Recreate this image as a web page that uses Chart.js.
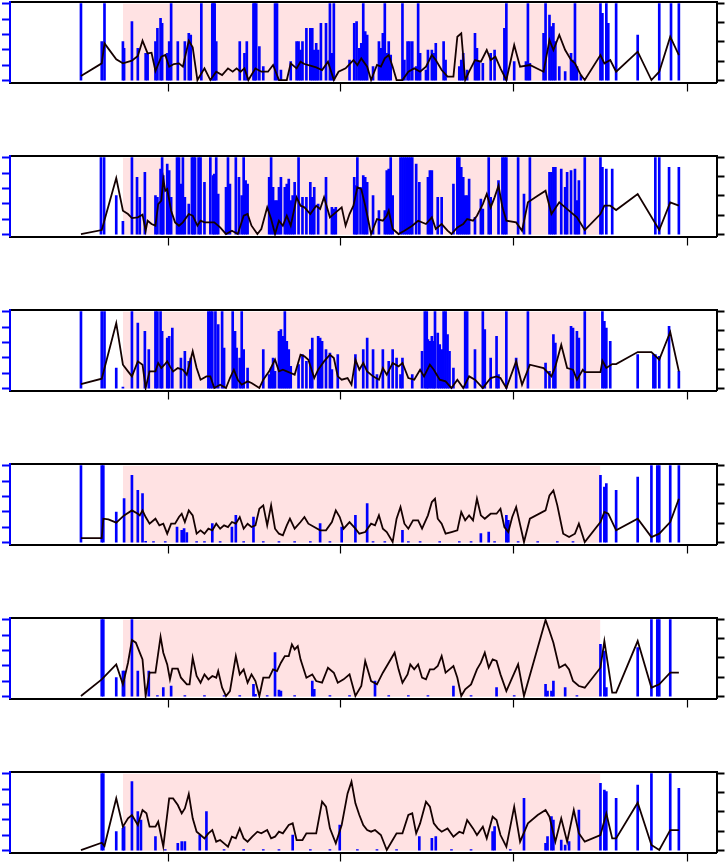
<!DOCTYPE html>
<html>
<head>
<meta charset="utf-8">
<script src="https://cdn.jsdelivr.net/npm/chart.js@4.4.1/dist/chart.umd.min.js"></script>
<style>
html, body { margin: 0; padding: 0; background: #fff; }
#wrap { position: relative; width: 725px; height: 863px; overflow: hidden; }
canvas { position: absolute; left: 0; }
</style>
</head>
<body>
<div id="wrap"></div>
<script>
// axis ticks (labels are outside the picture, only the marks show)
const xTicks = [237, 678, 1119, 1561];
const leftTicks = [0, 46.2, 92.4, 138.6, 184.8, 231];
const rightTicks = [0, 58.2, 116.4, 174.6, 232.8];

// shaded period
const shadeStart = 122;
const shadeEnd = 1340;
const shadeTop = 231;

// panel 1
const p1Line = [[15,14],[68,52],[75,112],[105,64],[122,52],[145,60],[160,74],[172,120],[185,82],[195,84],[205,29],[220,72],[230,77],[240,42],[252,50],[265,52],[275,42],[290,120],[300,100],[312,2],[330,37],[345,2],[360,27],[375,17],[390,37],[402,27],[412,37],[422,27],[432,37],[442,2],[460,37],[475,27],[492,27],[505,47],[520,2],[540,2],[550,52],[565,37],[575,57],[585,50],[600,45],[615,40],[630,32],[645,57],[660,2],[672,27],[690,37],[710,62],[720,47],[730,67],[745,42],[755,2],[770,47],[780,42],[790,67],[800,77],[810,42],[820,2],[835,2],[850,27],[865,37],[880,27],[895,42],[910,77],[920,62],[935,32],[950,12],[965,12],[975,132],[985,142],[995,2],[1005,27],[1020,62],[1035,57],[1050,92],[1060,62],[1072,72],[1085,37],[1100,2],[1120,107],[1135,42],[1160,47],[1195,27],[1210,122],[1220,92],[1235,137],[1250,92],[1265,62],[1275,52],[1290,17],[1300,2],[1340,77],[1350,52],[1365,62],[1380,27],[1435,87],[1470,2],[1490,27],[1518,132],[1540,77]];
const p1Bars = [[15,231],[68,117],[75,231],[122,117],[125,97],[145,177],[160,97],[180,82],[185,82],[205,117],[210,157],[218,187],[222,172],[235,82],[240,117],[245,231],[262,117],[280,117],[290,142],[295,137],[322,231],[350,231],[353,231],[356,231],[360,117],[420,117],[432,82],[438,117],[455,231],[458,231],[462,231],[470,102],[480,42],[510,231],[515,231],[525,32],[550,57],[565,117],[570,117],[575,92],[580,117],[590,157],[600,157],[605,157],[610,92],[615,112],[620,92],[627,172],[640,172],[650,231],[655,82],[660,231],[700,62],[712,172],[718,177],[725,97],[730,112],[735,231],[740,147],[745,137],[760,42],[775,117],[780,97],[785,142],[790,231],[795,82],[800,117],[805,77],[835,231],[840,62],[848,117],[853,117],[860,117],[870,42],[875,231],[880,82],[895,32],[900,92],[910,92],[915,82],[920,112],[940,117],[945,62],[980,42],[985,62],[990,82],[1000,32],[1020,142],[1025,97],[1030,57],[1040,52],[1060,82],[1070,92],[1095,157],[1100,231],[1120,57],[1150,57],[1155,231],[1160,52],[1195,142],[1200,231],[1210,197],[1215,162],[1220,172],[1225,117],[1235,42],[1250,27],[1265,82],[1270,62],[1275,231],[1280,42],[1290,17],[1340,231],[1345,202],[1355,231],[1360,172],[1380,231],[1435,137],[1490,231],[1520,231],[1540,231]];

// panel 2
const p2Line = [[15,2],[68,14],[105,170],[122,72],[135,62],[145,50],[160,52],[172,60],[180,12],[185,42],[195,32],[205,27],[212,92],[220,102],[225,167],[230,132],[235,137],[245,72],[255,37],[265,27],[275,37],[290,62],[300,57],[312,27],[320,42],[330,37],[345,37],[355,37],[370,22],[385,2],[400,12],[415,2],[430,57],[440,62],[450,27],[465,2],[475,17],[490,82],[500,47],[510,2],[520,42],[530,27],[540,57],[550,27],[560,82],[565,112],[575,87],[585,82],[600,62],[615,87],[625,77],[635,112],[650,52],[665,67],[680,82],[690,27],[700,62],[710,87],[720,142],[730,137],[740,87],[755,2],[770,47],[785,42],[795,57],[800,72],[810,17],[825,2],[840,12],[860,27],[875,42],[895,32],[910,52],[920,17],[935,32],[950,12],[960,2],[975,22],[990,32],[1000,47],[1015,42],[1025,57],[1040,92],[1050,122],[1060,82],[1070,112],[1080,147],[1090,82],[1100,42],[1125,37],[1140,12],[1155,97],[1180,117],[1200,132],[1215,62],[1235,97],[1250,82],[1265,67],[1280,52],[1300,14],[1340,62],[1350,87],[1365,87],[1380,74],[1435,122],[1490,14],[1518,97],[1540,87]];
const p2Bars = [[66,231],[74,231],[105,117],[122,40],[145,231],[158,172],[165,112],[178,187],[205,117],[210,112],[218,197],[222,231],[225,177],[235,212],[240,192],[245,112],[260,231],[265,231],[270,152],[275,231],[280,112],[290,92],[298,231],[302,231],[306,231],[315,231],[320,231],[330,157],[345,231],[352,177],[355,182],[360,231],[365,122],[385,142],[390,231],[395,152],[410,231],[418,172],[425,117],[430,231],[435,162],[440,152],[495,172],[500,231],[505,142],[510,102],[515,102],[520,142],[525,172],[535,142],[540,152],[545,167],[550,102],[555,117],[560,157],[570,231],[580,112],[590,112],[600,157],[605,112],[610,142],[620,92],[640,172],[655,82],[660,77],[665,82],[712,172],[716,147],[720,231],[728,142],[735,177],[740,172],[745,157],[760,117],[775,72],[790,72],[795,192],[800,197],[805,231],[810,117],[830,231],[835,231],[840,231],[845,231],[850,231],[855,231],[860,231],[870,212],[878,157],[900,172],[905,192],[910,192],[925,112],[935,112],[965,152],[975,231],[980,231],[985,202],[990,172],[995,117],[1000,117],[1005,167],[1020,52],[1035,107],[1040,77],[1055,231],[1060,112],[1080,162],[1090,231],[1095,231],[1100,231],[1130,231],[1145,122],[1160,231],[1210,187],[1215,187],[1220,202],[1225,202],[1240,197],[1250,142],[1255,187],[1265,192],[1275,197],[1280,102],[1285,162],[1300,231],[1340,231],[1345,202],[1355,197],[1370,197],[1480,231],[1490,231],[1515,202],[1540,202]];

// panel 3
const p3Line = [[15,14],[68,30],[105,197],[122,72],[135,52],[145,37],[160,82],[172,72],[180,2],[190,52],[205,52],[212,77],[220,62],[228,72],[235,82],[242,67],[250,52],[262,62],[275,57],[285,42],[300,112],[310,62],[320,27],[335,37],[345,37],[355,2],[370,12],[385,2],[395,32],[405,57],[415,27],[425,12],[440,22],[450,17],[470,2],[480,27],[495,52],[510,87],[520,52],[530,57],[540,52],[550,47],[560,42],[575,102],[585,97],[595,87],[610,32],[620,57],[635,82],[650,102],[660,92],[670,37],[680,27],[695,32],[705,12],[715,87],[725,57],[735,77],[745,52],[760,37],[775,27],[785,62],[795,42],[810,77],[825,67],[835,77],[850,32],[865,27],[880,57],[890,37],[905,72],[915,57],[930,27],[945,22],[960,2],[975,27],[990,2],[1005,37],[1020,27],[1040,2],[1060,32],[1075,37],[1085,32],[1100,2],[1125,82],[1140,12],[1160,72],[1195,62],[1215,37],[1225,67],[1240,132],[1255,62],[1270,57],[1280,27],[1295,57],[1300,50],[1340,50],[1345,84],[1355,62],[1370,74],[1380,74],[1435,110],[1470,110],[1490,87],[1518,170],[1540,52]];
const p3Bars = [[15,231],[68,231],[75,231],[105,62],[122,5],[145,231],[160,197],[178,172],[188,117],[205,231],[210,231],[218,231],[222,172],[235,152],[240,157],[248,182],[270,92],[280,112],[290,82],[295,92],[340,231],[345,231],[350,231],[358,231],[365,192],[375,231],[380,122],[402,231],[408,172],[412,122],[420,92],[425,231],[430,117],[440,62],[480,117],[495,42],[500,62],[505,92],[510,52],[520,172],[525,177],[530,157],[535,231],[540,142],[545,117],[550,67],[570,72],[580,102],[590,82],[600,117],[605,152],[620,157],[625,152],[630,142],[640,117],[650,107],[655,57],[670,102],[715,102],[735,117],[745,152],[760,117],[770,42],[785,117],[800,82],[810,117],[820,92],[830,42],[835,92],[860,42],[885,112],[892,231],[897,231],[900,147],[905,142],[910,157],[915,142],[918,231],[925,167],[930,132],[935,117],[940,231],[945,231],[950,162],[955,112],[965,62],[995,231],[1000,231],[1020,117],[1040,231],[1045,177],[1060,92],[1075,157],[1080,42],[1100,231],[1125,92],[1155,231],[1200,77],[1210,52],[1220,162],[1225,137],[1265,187],[1270,182],[1280,172],[1285,152],[1300,231],[1345,231],[1350,202],[1355,182],[1365,142],[1435,102],[1475,102],[1480,102],[1490,97],[1515,187],[1540,52]];

// panel 4
const p4Line = [[15,14],[68,14],[72,72],[85,70],[105,60],[125,82],[145,97],[160,87],[165,82],[172,97],[180,77],[190,57],[205,72],[215,52],[225,57],[235,27],[245,57],[255,57],[265,77],[272,87],[280,62],[290,97],[300,82],[310,27],[320,37],[330,27],[340,42],[350,37],[360,57],[370,42],[380,52],[390,47],[400,62],[410,57],[420,77],[430,42],[440,57],[450,47],[460,52],[470,102],[480,112],[490,52],[500,112],[510,42],[520,27],[530,22],[540,52],[548,72],[560,42],[575,62],[585,77],[595,57],[610,47],[625,37],[640,37],[655,62],[665,97],[675,77],[685,42],[700,62],[715,42],[725,27],[740,32],[755,57],[765,52],[775,82],[785,42],[795,32],[810,2],[820,72],[830,107],[840,57],[850,42],[862,67],[875,67],[885,42],[900,82],[910,122],[918,132],[925,72],[935,57],[945,27],[960,32],[975,37],[985,92],[995,67],[1005,82],[1015,67],[1025,132],[1035,82],[1045,72],[1060,87],[1075,87],[1085,102],[1095,47],[1105,32],[1115,77],[1125,107],[1145,2],[1160,72],[1200,97],[1210,142],[1220,157],[1230,112],[1245,27],[1260,17],[1275,27],[1285,57],[1300,2],[1340,62],[1350,92],[1360,87],[1380,37],[1435,72],[1470,17],[1490,27],[1518,62],[1540,132]];
const p4Bars = [[15,231],[68,231],[72,231],[105,92],[125,132],[145,202],[160,157],[172,147],[180,4],[200,3],[230,3],[260,47],[272,37],[278,42],[285,30],[310,3],[330,3],[350,57],[370,3],[400,47],[410,82],[430,3],[455,77],[480,3],[520,3],[560,3],[600,3],[625,57],[650,3],[680,47],[715,82],[745,117],[760,3],[790,3],[835,37],[850,3],[880,3],[930,3],[980,3],[1010,3],[1035,27],[1055,32],[1070,3],[1100,82],[1105,67],[1130,3],[1180,3],[1230,3],[1270,3],[1340,202],[1350,167],[1355,177],[1380,157],[1435,197],[1470,231],[1485,231],[1490,231],[1518,231],[1540,231]];

// panel 5
const p5Line = [[15,2],[68,52],[105,97],[122,37],[135,102],[145,170],[155,162],[165,132],[172,112],[180,2],[190,72],[205,72],[218,180],[225,132],[235,97],[242,52],[248,84],[262,84],[270,57],[285,37],[292,37],[300,117],[310,62],[320,42],[330,67],[340,52],[350,62],[360,57],[365,77],[375,27],[385,2],[395,17],[410,122],[420,67],[430,82],[440,42],[450,67],[460,47],[470,2],[480,57],[495,57],[505,82],[515,77],[525,102],[535,122],[545,122],[553,157],[560,142],[568,152],[575,112],[590,57],[605,67],[615,47],[630,42],[645,87],[660,72],[670,42],[685,52],[700,67],[715,2],[730,32],[740,107],[755,47],[770,37],[785,72],[800,102],[815,132],[825,82],[835,42],[848,67],[855,97],[865,82],[875,97],[885,57],[895,52],[905,82],[915,82],[925,92],[935,122],[945,72],[955,82],[965,92],[975,57],[985,2],[995,22],[1010,37],[1025,82],[1035,102],[1045,132],[1055,87],[1065,112],[1075,107],[1085,67],[1100,17],[1115,57],[1130,97],[1145,2],[1200,230],[1210,197],[1220,162],[1235,87],[1250,97],[1260,82],[1270,47],[1285,32],[1300,27],[1340,87],[1350,167],[1370,12],[1380,12],[1435,167],[1470,27],[1490,37],[1518,72],[1540,72]];
const p5Bars = [[68,231],[72,231],[105,57],[122,77],[125,77],[145,231],[160,77],[188,77],[210,3],[225,27],[245,32],[280,3],[330,3],[380,3],[420,3],[455,37],[460,7],[490,3],[510,132],[520,20],[525,17],[560,3],[605,47],[610,22],[650,3],[700,3],[765,47],[800,3],[850,3],[900,3],[965,32],[1010,3],[1075,27],[1120,3],[1200,37],[1205,17],[1215,17],[1220,47],[1250,27],[1280,3],[1340,157],[1350,137],[1355,27],[1435,147],[1470,231],[1485,231],[1490,231],[1518,231]];

// panel 6
const p6Line = [[15,2],[68,24],[75,14],[105,157],[122,72],[135,97],[145,107],[160,77],[172,122],[182,112],[190,72],[205,72],[212,87],[225,12],[240,157],[250,157],[262,137],[272,112],[280,127],[290,170],[300,97],[310,57],[320,47],[330,37],[340,52],[350,62],[360,27],[370,32],[380,22],[390,12],[400,42],[410,37],[420,67],[430,37],[440,27],[452,42],[465,57],[475,52],[490,62],[500,37],[510,42],[520,57],[530,52],[545,77],[555,82],[565,32],[580,32],[590,52],[605,52],[615,52],[630,147],[640,132],[650,67],[665,22],[680,77],[695,172],[705,207],[715,142],[725,107],[735,77],[745,62],[755,57],[765,62],[780,47],[795,2],[810,32],[820,52],[835,52],[850,107],[860,112],[870,52],[880,82],[895,147],[905,132],[915,82],[925,67],[935,57],[950,67],[965,42],[980,57],[990,52],[1000,92],[1015,67],[1025,47],[1040,72],[1050,37],[1065,102],[1075,92],[1085,47],[1100,12],[1120,132],[1135,27],[1155,82],[1180,107],[1200,122],[1210,102],[1225,27],[1240,97],[1255,27],[1272,122],[1285,52],[1300,27],[1340,47],[1355,112],[1370,37],[1380,37],[1435,144],[1470,17],[1490,2],[1518,62],[1540,62]];
const p6Bars = [[68,231],[72,231],[105,57],[122,67],[125,72],[145,207],[160,117],[168,92],[205,42],[230,3],[262,22],[272,27],[280,27],[318,47],[335,117],[380,3],[430,3],[480,3],[520,3],[555,47],[600,3],[650,3],[675,77],[720,3],[770,3],[820,3],[878,42],[910,37],[920,42],[960,3],[1010,3],[1065,57],[1070,72],[1110,3],[1145,157],[1200,22],[1205,42],[1215,102],[1220,92],[1240,32],[1250,17],[1260,27],[1285,122],[1340,202],[1350,182],[1355,177],[1380,157],[1435,197],[1470,231],[1518,231],[1540,187]];

const panels = [
    { line: p1Line, bars: p1Bars },
    { line: p2Line, bars: p2Bars },
    { line: p3Line, bars: p3Bars },
    { line: p4Line, bars: p4Bars },
    { line: p5Line, bars: p5Bars },
    { line: p6Line, bars: p6Bars }
];

const toPoints = arr => arr.map(([x, y]) => ({ x: x, y: y }));
const setTicks = vals => scale => { scale.ticks = vals.map(v => ({ value: v })); };

const wrap = document.getElementById('wrap');

panels.forEach((panel, k) => {
    const canvas = document.createElement('canvas');
    canvas.width = 725;
    canvas.height = 154;
    canvas.style.top = (k * 154) + 'px';
    wrap.appendChild(canvas);

    new Chart(canvas, {
        type: 'bar',
        data: {
            datasets: [{
                type: 'line',
                data: toPoints(panel.line),
                xAxisID: 'x',
                yAxisID: 'yR',
                borderColor: '#140000',
                borderWidth: 1.8,
                pointRadius: 0,
                tension: 0,
                order: 1
            }, {
                type: 'bar',
                data: toPoints(panel.bars),
                xAxisID: 'x',
                yAxisID: 'yL',
                backgroundColor: '#0000ff',
                borderWidth: 0,
                barThickness: 2,
                clip: 0,
                order: 2
            }, {
                type: 'line',
                data: toPoints([[shadeStart, shadeTop], [shadeEnd, shadeTop]]),
                xAxisID: 'x',
                yAxisID: 'yL',
                fill: 'origin',
                backgroundColor: '#ffe2e3',
                borderWidth: 0,
                pointRadius: 0,
                order: 3
            }]
        },
        options: {
            responsive: false,
            animation: false,
            events: [],
            layout: { padding: { top: 1.5, left: 0, right: 0, bottom: 0 } },
            plugins: {
                legend: { display: false },
                tooltip: { enabled: false }
            },
            scales: {
                x: {
                    type: 'linear',
                    position: 'bottom',
                    offset: false,
                    min: -166,
                    max: 1636,
                    afterBuildTicks: setTicks(xTicks),
                    afterFit: s => { s.height = 71.5; },
                    ticks: { display: false },
                    grid: { offset: false, drawOnChartArea: false, tickLength: 9, tickWidth: 1.2, tickColor: '#000' },
                    border: { color: '#000', width: 2, z: 1 }
                },
                xTop: {
                    type: 'linear',
                    position: 'top',
                    offset: false,
                    afterFit: s => { s.height = 0; },
                    ticks: { display: false },
                    grid: { display: false, offset: false },
                    border: { color: '#000', width: 2, z: 1 }
                },
                yL: {
                    type: 'linear',
                    position: 'left',
                    min: -5.4,
                    max: 237.6,
                    afterBuildTicks: setTicks(leftTicks),
                    afterFit: s => { s.width = 10; },
                    ticks: { display: false },
                    grid: { drawOnChartArea: false, tickLength: 8, tickWidth: 2, tickColor: '#0000ff' },
                    border: { color: '#0000ff', width: 2, z: 1 }
                },
                yR: {
                    type: 'linear',
                    position: 'right',
                    min: -5.4,
                    max: 237.6,
                    afterBuildTicks: setTicks(rightTicks),
                    afterFit: s => { s.width = 8.5; },
                    ticks: { display: false },
                    grid: { drawOnChartArea: false, tickLength: 8, tickWidth: 2, tickColor: '#000' },
                    border: { color: '#000', width: 2, z: 1 }
                }
            }
        }
    });
});
</script>
</body>
</html>
